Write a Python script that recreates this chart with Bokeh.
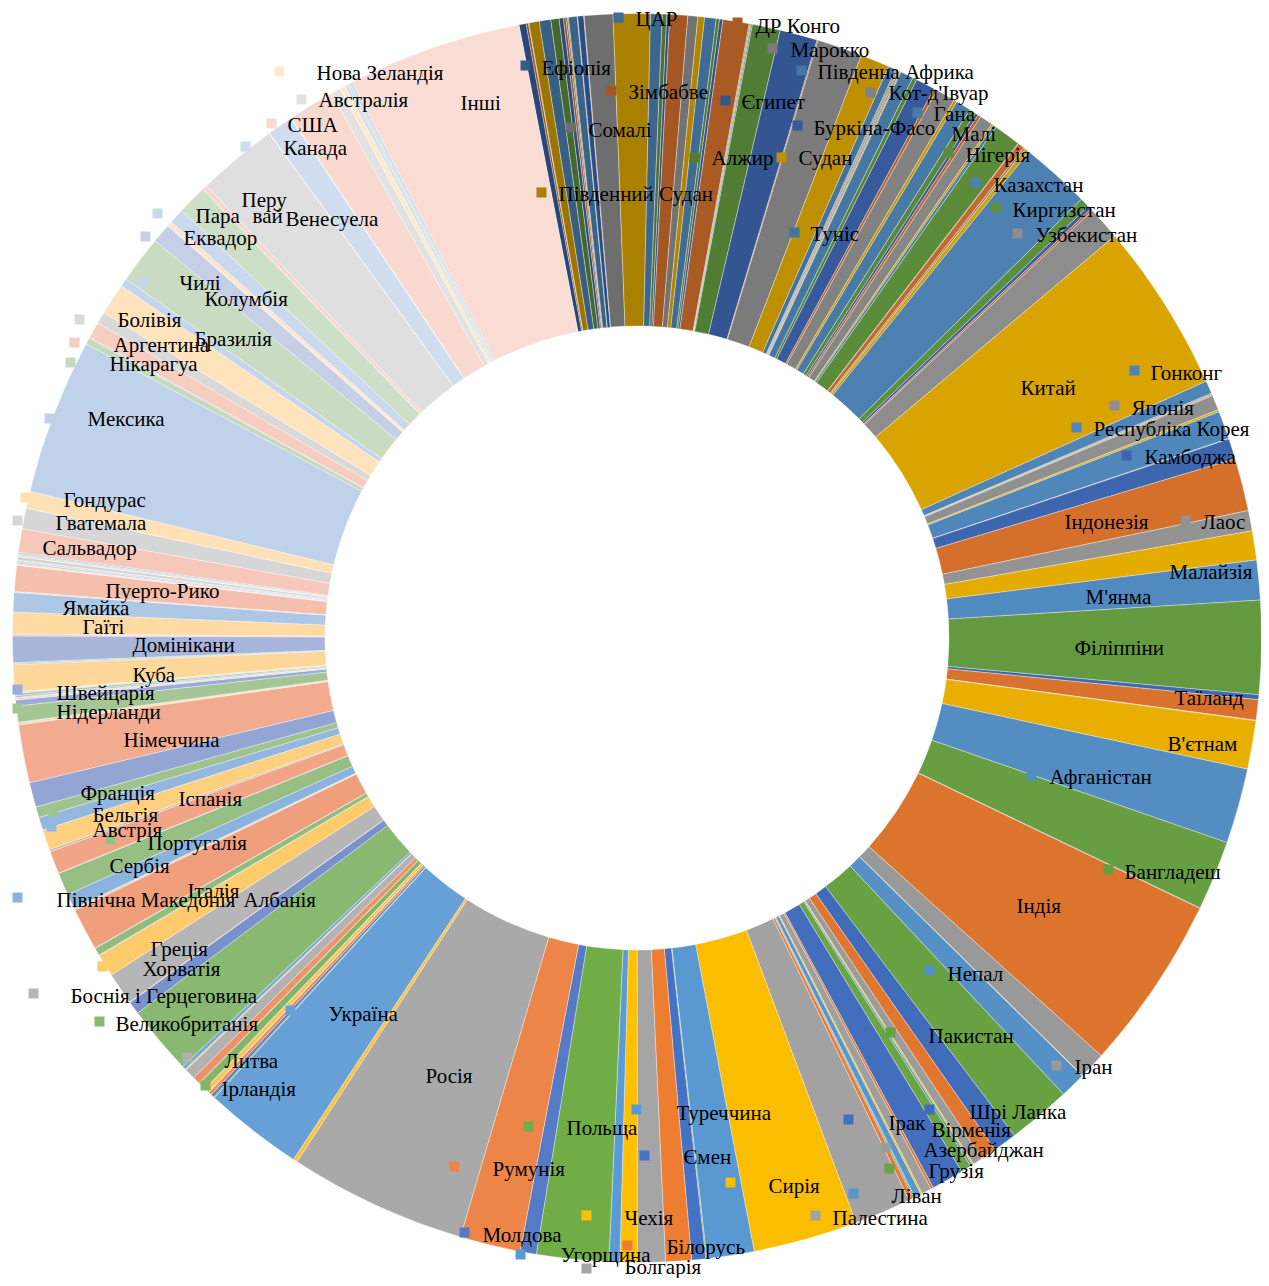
import math
from bokeh.plotting import figure
from bokeh.models import Range1d, ColumnDataSource
from bokeh.embed import file_html
from bokeh.resources import INLINE
from bokeh.core.properties import value

# ---------------- DATA (share of the ring, in degrees of 360) ----------------
africa_names = ["Бурунді", "Коморські Острови", "Джибуті", "Еритрея", "Ефіопія", "Кенія", "Мадагаскар",
                "Малаві", "Маврикій", "Майотта", "Мозамбік", "Реюньйон", "Руанда", "Сейшельські Острови",
                "Сомалі", "Південний Судан", "Уганда", "Танзанія", "Замбія", "Зімбабве",
                "Ангола", "Камерун", "ЦАР", "Чад", "Конго", "ДР Конго", "Екваторіальна Гвінея", "Габон",
                "Сан-Томе і Принсіпі",
                "Алжир", "Єгипет", "Лівія", "Марокко", "Судан", "Туніс", "Західна Сахара",
                "Ботсвана", "Есватіні", "Лесото", "Намібія", "Південна Африка",
                "Бенін", "Буркіна-Фасо", "Кабо-Верде", "Кот-д'Івуар", "Гамбія", "Гана", "Гвінея",
                "Гвінея-Бісау", "Ліберія", "Малі", "Мавританія", "Нігер", "Нігерія", "Острів Святої Єлени",
                "Сенегал", "Сьєрра-Леоне", "Того"]
africa_values = [0.67, 0.21, 0.05, 0.96, 1.07, 0.77, 0.40, 0.22, 0.15, 0.10, 0.80, 0.05, 0.55, 0.05,
                 2.65, 3.44, 1.09, 0.41, 0.28, 1.65,
                 0.93, 0.62, 1.08, 0.30, 0.31, 2.44, 0.10, 0.10, 0.11,
                 2.6, 3.5, 0.1, 4.2, 2.7, 0.7, 0.1,
                 0.1, 0.1, 0.15, 0.1, 1.2,
                 0.4, 1.8, 0.3, 1.8, 0.3, 1.4, 0.6, 0.3, 0.3, 1.2, 0.2, 0.3, 2.5, 0.05, 0.6, 0.2, 0.4]

asia_names = ["Казахстан", "Киргизстан", "Таджикистан", "Туркменістан", "Узбекистан",
              "Китай", "Гонконг", "Макао", "Тайвань", "КНДР", "Японія", "Монголія", "Республіка Корея",
              "Бруней", "Камбоджа", "Індонезія", "Лаос", "Малайзія", "М'янма", "Філіппіни", "Сінгапур",
              "Таїланд", "Тимор-Лешті", "В'єтнам",
              "Афганістан", "Бангладеш", "Бутан", "Індія", "Іран", "Мальдіви", "Непал", "Пакистан", "Шрі Ланка",
              "Вірменія", "Азербайджан", "Бахрейн", "Кіпр", "Грузія", "Ірак", "Ізраїль", "Йорданія", "Кувейт",
              "Ліван", "Оман", "Катар", "Саудівська Аравія", "Палестина", "Сирія", "Туреччина", "ОАЕ", "Ємен"]
asia_values = [6.5, 0.9, 0.35, 0.2, 3.1,
               15.8, 1.2, 0.1, 0.05, 0.1, 1.4, 0.2, 2.6,
               0.05, 1.9, 4.9, 1.9, 2.7, 3.7, 8.7, 0.45, 1.9, 0.05, 4.5,
               7.0, 6.5, 0.05, 16.3, 2.5, 0.05, 2.4, 5.9, 2.2,
               1.45, 0.9, 0.15, 0.2, 0.95, 3.0, 0.25, 0.9, 0.15, 0.6, 0.1, 0.1, 0.4, 5.3, 9.7, 4.4, 0.1, 1.3]

europe_names = ["Білорусь", "Болгарія", "Чехія", "Угорщина", "Польща", "Молдова", "Румунія", "Росія",
                "Словаччина", "Україна",
                "Нормандські острови", "Данія", "Естонія", "Фарерські острови", "Фінляндія", "Ісландія",
                "Ірландія", "Острів Мен", "Латвія", "Литва", "Норвегія", "Швеція", "Великобританія",
                "Албанія", "Андорра", "Боснія і Герцеговина", "Хорватія", "Гібралтар", "Греція", "Ватикан",
                "Італія", "Мальта", "Чорногорія", "Північна Македонія", "Португалія", "Сан-Марино", "Сербія",
                "Словенія", "Іспанія",
                "Австрія", "Бельгія", "Франція", "Німеччина", "Ліхтенштейн", "Люксембург", "Монако",
                "Нідерланди", "Швейцарія"]
europe_values = [2.4, 2.6, 1.6, 1.0, 6.7, 1.5, 5.65, 16.55, 0.4, 9.2,
                 0.1, 0.3, 0.3, 0.05, 0.4, 0.05, 0.7, 0.05, 0.7, 1.0, 0.1, 0.35, 6.4,
                 1.2, 0.05, 3.0, 2.1, 0.05, 0.7, 0.05, 3.9, 0.1, 0.1, 1.4, 2.1, 0.05, 2.1, 0.2, 1.9,
                 1.2, 1.0, 2.3, 5.4, 0.05, 0.15, 0.05, 1.5, 0.55]

americas_names = ["Ангілья", "Антигуа і Барбуда", "Аруба", "Багами", "Барбадос", "Бонайре",
                  "Британські Віргінські острови", "Кайманові острови", "Куба", "Кюрасао", "Домініка",
                  "Домінікани", "Гренада", "Гваделупа", "Гаїті", "Ямайка", "Мартиніка", "Монтсеррат",
                  "Пуерто-Рико", "Сен-Бартелемі", "Сент-Кіттс і Невіс", "Сент-Люсія", "Сен-Мартен",
                  "Сент-Вінсент і Гренадини", "Сінт-Мартен", "Тринідад і Тобаго", "Теркс і Кайкос",
                  "Віргінські острови США",
                  "Беліз", "Коста-Рика", "Сальвадор", "Гватемала", "Гондурас", "Мексика", "Нікарагуа", "Панама",
                  "Аргентина", "Болівія", "Бразилія", "Чилі", "Колумбія", "Еквадор", "Фолклендські острови",
                  "Французька Гвіана", "Гаяна", "Парагвай", "Перу", "Суринам", "Уругвай", "Венесуела",
                  "Бермуди", "Канада", "Гренландія", "Сен-П'єр і Мікелон", "США"]
americas_values = [0.05, 0.1, 0.1, 0.15, 0.2, 0.05, 0.05, 0.05, 2.5, 0.1, 0.1, 2.45, 0.1, 0.1, 2.0, 1.8,
                   0.05, 0.05, 2.4, 0.05, 0.1, 0.15, 0.05, 0.1, 0.05, 0.3, 0.05, 0.1,
                   0.1, 0.15, 2.2, 1.9, 1.6, 14.5, 0.6, 0.1,
                   1.5, 1.1, 2.95, 0.75, 4.4, 1.8, 0.05, 0.1, 0.35, 1.4, 2.7, 0.1, 0.4, 7.5,
                   0.05, 2.35, 0.05, 0.05, 4.3]

oceania_names = ["Австралія", "Нова Зеландія", "Фіджі", "Папуа Нова Гвінея", "Самоа", "Інші"]
oceania_values = [0.9, 0.5, 0.3, 0.2, 0.3, 16.2]

names = africa_names + asia_names + europe_names + americas_names + oceania_names
values = africa_values + asia_values + europe_values + americas_values + oceania_values

# ---------------- STYLE / LAYOUT ----------------
ACCENTS = ["#4472C4", "#ED7D31", "#A5A5A5", "#FFC000", "#5B9BD5", "#70AD47"]


def excel_color(i, n):
    base = ACCENTS[i % 6]
    c = i // 6
    maxc = (n - 1) // 6
    f = (c + 1) / (maxc + 2) * 1.4 - 0.7
    rgb = [int(base[k:k + 2], 16) / 255 for k in (1, 3, 5)]
    lin = [v ** 2.2 for v in rgb]
    if f < 0:
        t = 1 + f
        lin = [v * t for v in lin]
    else:
        t = 1 - f
        lin = [v * t + (1 - t) for v in lin]
    out = [max(0, min(255, round(255 * (v ** (1 / 2.2))))) for v in lin]
    return "#%02x%02x%02x" % tuple(out)


N = len(values)
colors = [excel_color(i, N) for i in range(N)]
color_of = dict(zip(names, colors))

IMG_H = 1286
CX, CY = 636.5, IMG_H - 637.5
R_OUT, R_IN = 624.5, 312.0
START_DEG = -10.9  # clockwise from 12 o'clock

total = sum(values)
starts, ends = [], []
acc = START_DEG
for v in values:
    a0 = acc
    a1 = acc + v / total * 360.0
    starts.append(math.radians(90 - a0))
    ends.append(math.radians(90 - a1))
    acc = a1

src = ColumnDataSource(dict(start=starts, end=ends, color=colors, name=names))

W, H = 1261, 1278
p = figure(width=W, height=H, x_range=Range1d(0, W), y_range=Range1d(IMG_H - H, IMG_H),
           output_backend="svg", toolbar_location=None, min_border=0)
p.axis.visible = False
p.grid.visible = False
p.outline_line_color = None
p.background_fill_color = "white"
p.border_fill_color = "white"

p.annular_wedge(x=CX, y=CY, inner_radius=R_IN, outer_radius=R_OUT, start_angle="start", end_angle="end",
                direction="clock", fill_color="color", line_color="white", line_width=0.5, line_alpha=0.7,
                source=src)

# label layout: name, text x, text y, key x, key y (reference pixel positions)
label_layout = [
    ("ЦАР", 635, 18, 618, 17), ("ДР Конго", 755, 25, 737, 22), ("Марокко", 790, 49, 772, 48),
    ("Південна Африка", 817, 71, 801, 70), ("Кот-д'Івуар", 888, 92, 870, 92), ("Гана", 933, 113, 917, 112),
    ("Малі", 951, 133, None, None), ("Нігерія", 965, 154, 948, 152), ("Казахстан", 993, 184, 975, 182),
    ("Киргизстан", 1012, 209, 995, 207), ("Узбекистан", 1035, 234, 1017, 233),
    ("Буркіна-Фасо", 813, 127, 797, 125), ("Єгипет", 741, 101, 725, 100), ("Судан", 798, 157, 781, 157),
    ("Алжир", 711, 157, 694, 157), ("Туніс", 810, 233, 794, 232), ("Зімбабве", 628, 91, 611, 90),
    ("Ефіопія", 541, 67, 525, 65), ("Сомалі", 588, 129, 570, 127), ("Південний Судан", 558, 193, 541, 192),
    ("Китай", 1020, 387, None, None), ("Гонконг", 1150, 372, 1134, 370), ("Японія", 1131, 407, 1114, 405),
    ("Республіка Корея", 1093, 428, 1076, 427), ("Камбоджа", 1144, 456, 1126, 455),
    ("Індонезія", 1064, 521, None, None), ("Лаос", 1201, 521, 1185, 520), ("Малайзія", 1169, 571, None, None),
    ("М'янма", 1085, 596, None, None), ("Філіппіни", 1074, 647, None, None), ("Таїланд", 1174, 697, None, None),
    ("В'єтнам", 1167, 743, None, None), ("Афганістан", 1049, 776, 1031, 775),
    ("Бангладеш", 1124, 871, 1108, 869), ("Індія", 1016, 905, None, None), ("Непал", 947, 973, 929, 970),
    ("Пакистан", 928, 1035, 890, 1032), ("Іран", 1074, 1066, 1056, 1065), ("Шрі Ланка", 969, 1111, 929, 1109),
    ("Вірменія", 931, 1129, None, None), ("Азербайджан", 923, 1149, 885, 1147), ("Грузія", 928, 1170, 889, 1168),
    ("Ірак", 888, 1122, 848, 1119), ("Ліван", 891, 1195, 853, 1193), ("Палестина", 832, 1217, 815, 1215),
    ("Сирія", 768, 1185, 730, 1182), ("Туреччина", 676, 1112, 636, 1109), ("Ємен", 683, 1156, 644, 1155),
    ("Польща", 566, 1127, 528, 1126), ("Румунія", 492, 1168, 454, 1166), ("Чехія", 624, 1217, 586, 1215),
    ("Молдова", 482, 1234, 464, 1232), ("Угорщина", 560, 1254, 520, 1254), ("Білорусь", 666, 1246, 627, 1245),
    ("Болгарія", 624, 1266, 586, 1268), ("Росія", 425, 1075, None, None), ("Україна", 328, 1013, 290, 1010),
    ("Литва", 224, 1060, 187, 1057), ("Ірландія", 221, 1088, 205, 1085),
    ("Великобританія", 115, 1023, 99, 1021), ("Боснія і Герцеговина", 70, 995, 33, 993),
    ("Хорватія", 142, 968, 102, 966), ("Греція", 150, 948, None, None), ("Італія", 187, 890, None, None),
    ("Північна Македонія", 56, 899, 17, 897), ("Албанія", 243, 899, None, None), ("Сербія", 109, 865, None, None),
    ("Португалія", 147, 842, 110, 839), ("Австрія", 92, 829, 51, 826), ("Бельгія", 92, 814, 53, 811),
    ("Франція", 80, 792, None, None), ("Іспанія", 178, 798, None, None), ("Німеччина", 123, 739, None, None),
    ("Нідерланди", 56, 711, 17, 708), ("Швейцарія", 56, 692, 17, 689), ("Куба", 132, 674, None, None),
    ("Домінікани", 132, 644, None, None), ("Гаїті", 82, 626, None, None), ("Ямайка", 62, 607, None, None),
    ("Пуерто-Рико", 105, 590, None, None), ("Сальвадор", 42, 547, None, None),
    ("Гватемала", 55, 522, 17, 520), ("Гондурас", 63, 499, 25, 497), ("Мексика", 87, 418, 49, 418),
    ("Нікарагуа", 109, 363, 70, 362), ("Аргентина", 113, 344, 74, 342), ("Болівія", 117, 319, 79, 319),
    ("Бразилія", 194, 338, None, None), ("Чилі", 179, 282, 142, 281), ("Колумбія", 204, 298, None, None),
    ("Еквадор", 183, 237, 145, 236), ("Перу", 241, 199, 203, 198), ("Венесуела", 285, 218, None, None),
    ("Канада", 283, 147, 245, 146), ("США", 287, 124, 271, 123), ("Австралія", 318, 99, 301, 99),
    ("Нова Зеландія", 316, 72, 279, 71), ("Інші", 460, 102, None, None),
]
# Парагвай label appears split in two pieces in the picture
split_labels = [("Парагвай", "Пара", 195, 215, 157, 213), ("Парагвай", "вай", 252, 215, None, None)]

tx, ty, tt = [], [], []
kx, ky, kc = [], [], []
for nm, x, y, kxx, kyy in label_layout:
    tx.append(x); ty.append(IMG_H - y); tt.append(nm)
    if kxx is not None:
        kx.append(kxx); ky.append(IMG_H - kyy); kc.append(color_of[nm])
for nm, piece, x, y, kxx, kyy in split_labels:
    tx.append(x); ty.append(IMG_H - y); tt.append(piece)
    if kxx is not None:
        kx.append(kxx); ky.append(IMG_H - kyy); kc.append(color_of[nm])

p.rect(x=kx, y=ky, width=10, height=10, fill_color=kc, line_color=None)
p.text(x=tx, y=ty, text=tt, text_font=value("Liberation Serif"), text_font_size=value("21px"),
       text_baseline="middle", text_align="left", text_color="#000000")

open("out.html", "w").write(file_html(p, INLINE))
